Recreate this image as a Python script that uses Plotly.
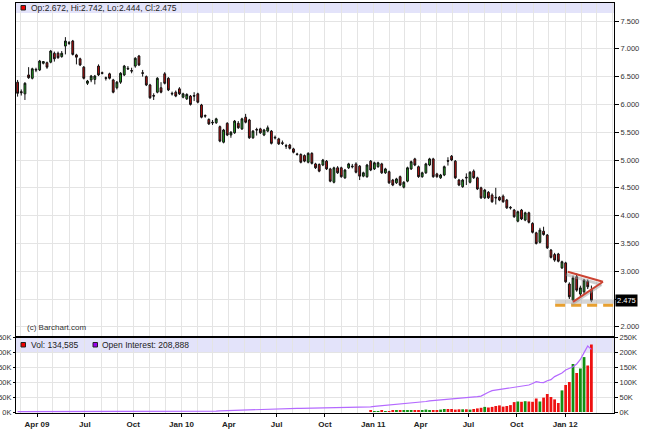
import plotly.graph_objects as go
import pandas as pd

# ---------------- data (weekly candles) ----------------
first_week = "2009-02-23"

opens = [6.40, 6.23, 6.19, 6.53, 6.47, 6.63, 6.62, 6.74, 6.75, 6.76,
         6.92, 6.92, 6.86, 7.05, 7.11, 7.14, 6.89, 6.82, 6.67, 6.38,
         6.44, 6.45, 6.69, 6.57, 6.48, 6.55, 6.44, 6.30, 6.40, 6.53,
         6.65, 6.61, 6.69, 6.87, 6.57, 6.50, 6.35, 6.16, 6.22, 6.30,
         6.55, 6.47, 6.20, 6.22, 6.28, 6.13, 6.10, 6.15, 6.16, 6.19,
         5.99, 5.80, 5.73, 5.68, 5.67, 5.60, 5.32, 5.66, 5.45, 5.49,
         5.66, 5.56, 5.77, 5.72, 5.40, 5.55, 5.56, 5.45, 5.52, 5.52,
         5.41, 5.38, 5.31, 5.26, 5.27, 5.20, 5.11, 5.10, 5.08, 4.96,
         5.12, 4.93, 4.92, 4.91, 4.98, 4.84, 4.60, 4.86, 4.86, 4.68,
         4.86, 4.89, 4.93, 4.89, 4.71, 4.70, 4.98, 4.84, 4.88, 4.93,
         4.77, 4.79, 4.64, 4.59, 4.70, 4.51, 4.62, 4.84, 5.02, 4.88,
         4.70, 4.77, 4.91, 5.02, 4.75, 4.68, 4.73, 4.99, 5.07, 4.98,
         4.64, 4.52, 4.69, 4.60, 4.80, 4.68, 4.50, 4.32, 4.42, 4.37,
         4.33, 4.33, 4.35, 4.28, 4.15, 4.10, 3.90, 4.10, 3.92, 4.05,
         3.86, 3.69, 3.52, 3.72, 3.65, 3.38, 3.30, 3.31, 3.06, 3.15,
         2.77, 2.48, 2.90, 2.59, 2.63, 2.82, 2.672]
highs = [6.44, 6.27, 6.40, 6.67, 6.66, 6.66, 6.80, 6.78, 6.77, 6.98,
         6.95, 6.95, 6.96, 7.21, 7.14, 7.16, 6.91, 6.84, 6.69, 6.44,
         6.53, 6.53, 6.72, 6.59, 6.50, 6.57, 6.46, 6.42, 6.58, 6.71,
         6.69, 6.66, 6.85, 6.89, 6.62, 6.52, 6.37, 6.20, 6.49, 6.40,
         6.58, 6.49, 6.23, 6.25, 6.31, 6.21, 6.20, 6.17, 6.22, 6.21,
         6.01, 5.82, 5.75, 5.72, 5.76, 5.62, 5.56, 5.68, 5.52, 5.72,
         5.70, 5.76, 5.83, 5.74, 5.54, 5.58, 5.58, 5.56, 5.62, 5.54,
         5.44, 5.40, 5.35, 5.29, 5.29, 5.22, 5.13, 5.12, 5.10, 5.14,
         5.14, 4.95, 4.94, 5.02, 5.00, 4.86, 4.88, 4.89, 4.88, 4.84,
         4.95, 4.93, 4.96, 4.91, 4.79, 4.93, 5.00, 4.97, 4.97, 4.95,
         4.86, 4.81, 4.66, 4.68, 4.72, 4.62, 4.88, 4.99, 5.04, 4.90,
         4.79, 4.95, 5.04, 5.04, 4.77, 4.75, 4.90, 5.05, 5.09, 5.00,
         4.66, 4.66, 4.76, 4.80, 4.83, 4.70, 4.52, 4.48, 4.44, 4.40,
         4.50, 4.35, 4.38, 4.30, 4.17, 4.12, 4.09, 4.12, 4.07, 4.07,
         3.88, 3.71, 3.78, 3.80, 3.67, 3.40, 3.33, 3.33, 3.19, 3.17,
         2.80, 2.92, 2.96, 2.74, 2.86, 2.85, 2.742]
lows = [6.14, 6.16, 6.08, 6.46, 6.45, 6.58, 6.60, 6.72, 6.64, 6.74,
        6.77, 6.82, 6.84, 6.90, 7.07, 6.88, 6.72, 6.69, 6.45, 6.35,
        6.40, 6.36, 6.51, 6.54, 6.43, 6.45, 6.20, 6.27, 6.37, 6.51,
        6.62, 6.56, 6.66, 6.69, 6.50, 6.33, 6.10, 6.08, 6.20, 6.20,
        6.36, 6.24, 6.16, 6.13, 6.17, 6.11, 6.08, 5.98, 6.06, 6.02,
        5.75, 5.76, 5.63, 5.63, 5.65, 5.32, 5.30, 5.43, 5.40, 5.47,
        5.56, 5.54, 5.66, 5.38, 5.38, 5.44, 5.47, 5.43, 5.50, 5.28,
        5.37, 5.27, 5.27, 5.20, 5.19, 5.12, 5.08, 4.94, 4.96, 4.94,
        4.92, 4.84, 4.78, 4.89, 4.82, 4.60, 4.58, 4.75, 4.68, 4.66,
        4.84, 4.85, 4.76, 4.64, 4.69, 4.68, 4.80, 4.82, 4.86, 4.75,
        4.75, 4.57, 4.53, 4.57, 4.53, 4.49, 4.60, 4.82, 4.89, 4.68,
        4.68, 4.75, 4.89, 4.68, 4.68, 4.66, 4.71, 4.90, 4.98, 4.66,
        4.53, 4.50, 4.55, 4.58, 4.66, 4.46, 4.30, 4.30, 4.30, 4.23,
        4.20, 4.26, 4.23, 4.12, 4.11, 3.96, 3.88, 3.92, 3.90, 3.86,
        3.68, 3.48, 3.50, 3.64, 3.40, 3.23, 3.17, 3.16, 3.04, 2.79,
        2.50, 2.46, 2.63, 2.54, 2.58, 2.68, 2.444]
closes = [6.20, 6.21, 6.38, 6.48, 6.64, 6.62, 6.78, 6.77, 6.67, 6.96,
          6.82, 6.84, 6.92, 7.14, 7.10, 6.90, 6.85, 6.71, 6.47, 6.42,
          6.51, 6.51, 6.53, 6.56, 6.47, 6.47, 6.22, 6.40, 6.56, 6.69,
          6.64, 6.60, 6.83, 6.71, 6.56, 6.35, 6.12, 6.15, 6.47, 6.22,
          6.38, 6.26, 6.19, 6.15, 6.19, 6.19, 6.18, 6.00, 6.15, 6.04,
          5.77, 5.79, 5.65, 5.67, 5.74, 5.34, 5.54, 5.45, 5.50, 5.70,
          5.58, 5.74, 5.68, 5.40, 5.52, 5.54, 5.49, 5.54, 5.58, 5.30,
          5.40, 5.29, 5.30, 5.25, 5.21, 5.14, 5.10, 4.96, 4.98, 5.12,
          4.94, 4.86, 4.80, 5.00, 4.84, 4.62, 4.86, 4.77, 4.70, 4.82,
          4.93, 4.88, 4.78, 4.71, 4.77, 4.91, 4.82, 4.95, 4.95, 4.77,
          4.84, 4.59, 4.55, 4.66, 4.55, 4.60, 4.86, 4.97, 4.91, 4.70,
          4.77, 4.93, 5.02, 4.70, 4.70, 4.73, 4.88, 4.98, 5.00, 4.68,
          4.55, 4.64, 4.68, 4.78, 4.68, 4.48, 4.32, 4.46, 4.32, 4.25,
          4.32, 4.28, 4.25, 4.14, 4.14, 3.98, 4.07, 3.94, 4.05, 3.88,
          3.70, 3.50, 3.74, 3.66, 3.42, 3.25, 3.20, 3.18, 3.17, 2.81,
          2.54, 2.88, 2.66, 2.70, 2.84, 2.72, 2.475]

# weekly volume (thousands) and open interest (thousands)
volume_k = [0] * 96 + [
    4, 3, 3, 4, 3, 2, 4, 4, 5, 6, 5, 4, 5, 5, 6, 8, 6, 5, 6, 8,
    10, 10, 10, 8, 9, 9, 9, 8, 10, 12, 14, 17, 15, 17, 20, 22, 18, 20, 23, 33,
    35, 34, 36, 35, 34, 45, 35, 48, 60, 50, 42, 30, 72, 90, 100, 160, 130, 145, 183, 155,
    225]
open_interest_k = [
    1.0, 1.0, 1.1, 1.1, 1.2, 1.2, 1.3, 1.3, 1.4, 1.4,
    1.5, 1.5, 1.6, 1.6, 1.7, 1.7, 1.8, 1.8, 1.9, 1.9,
    2.0, 2.0, 2.0, 2.1, 2.1, 2.1, 2.2, 2.2, 2.2, 2.3,
    2.3, 2.3, 2.4, 2.4, 2.4, 2.5, 2.5, 2.5, 2.6, 2.6,
    2.6, 2.7, 2.7, 2.7, 2.8, 2.8, 2.8, 2.9, 2.9, 2.9,
    3.0, 3.0, 3.0, 3.0, 3.0, 4.0, 4.5, 5.0, 5.5, 6.0,
    6.5, 7.0, 7.5, 8.0, 8.3, 8.6, 8.8, 9.0, 9.0, 9.2,
    10, 10.3, 10.6, 11, 11.3, 11.6, 12, 12.2, 12.4, 12.6,
    12.8, 13, 13, 13, 13.2, 13.4, 13.6, 13.8, 14, 14.2,
    14.4, 14.6, 14.8, 15, 15, 15.5, 17, 19, 20, 21,
    23, 23, 24, 25, 26, 27, 28, 30, 31, 33,
    34, 35, 37, 38, 39, 40, 41, 41, 42, 43,
    44, 45, 46, 47, 49, 51, 53, 60, 66, 71,
    73, 75, 76, 79, 82, 84, 86, 87, 88, 90,
    95, 101, 99, 98, 104, 108, 118, 125, 130, 140,
    145, 151, 160, 175, 198, 220, 208.888]

quarter_ticks = ["2009-04-01", "2009-07-01", "2009-10-01", "2010-01-01", "2010-04-01",
                 "2010-07-01", "2010-10-01", "2011-01-01", "2011-04-01", "2011-07-01",
                 "2011-10-01", "2012-01-01"]
quarter_labels = ["Apr 09", "Jul", "Oct", "Jan 10", "Apr", "Jul", "Oct", "Jan 11",
                  "Apr", "Jul", "Oct", "Jan 12"]
price_ticks = [2.0, 2.5, 3.0, 3.5, 4.0, 4.5, 5.0, 5.5, 6.0, 6.5, 7.0, 7.5]
price_labels = ["2.000", "", "3.000", "3.500", "4.000", "4.500", "5.000", "5.500",
                "6.000", "6.500", "7.000", "7.500"]
vol_ticks = [0, 50000, 100000, 150000, 200000, 250000]
vol_labels = ["0K", "50K", "100K", "150K", "200K", "250K"]

# chart drawings (triangle + support line)
tri_top = ("2012-01-06", 2.99)
tri_apex = ("2012-03-13", 2.81)
tri_bottom = ("2012-01-16", 2.45)
support_level = 2.39
support_start = "2011-12-13"

last_close = closes[-1]
header_text = "Op:2.672, Hi:2.742, Lo:2.444, Cl:2.475"
vol_text = "Vol: 134,585"
oi_text = "Open Interest: 208,888"

# ---------------- figure ----------------
dates = pd.date_range(first_week, periods=len(opens), freq="7D")
x_range = ["2009-02-20", "2012-04-03"]
FONT = "Liberation Sans, Arial, sans-serif"
GRID = "#e4e4e4"

vol_colors = ["#129012" if c > o else "#ee1111" for o, c in zip(opens, closes)]

fig = go.Figure()
fig.add_trace(go.Candlestick(
    x=dates, open=opens, high=highs, low=lows, close=closes,
    increasing=dict(line=dict(color="#111111", width=1), fillcolor="#22aa22"),
    decreasing=dict(line=dict(color="#111111", width=1), fillcolor="#c41010"),
    xaxis="x", yaxis="y", showlegend=False, hoverinfo="skip"))

fig.add_trace(go.Bar(
    x=dates, y=[v * 1000 for v in volume_k], marker=dict(color=vol_colors, line=dict(width=0)),
    xaxis="x2", yaxis="y2", showlegend=False, hoverinfo="skip"))
fig.add_trace(go.Scatter(
    x=dates, y=[v * 1000 for v in open_interest_k], mode="lines",
    line=dict(color="#b469ff", width=1.2), xaxis="x2", yaxis="y2",
    showlegend=False, hoverinfo="skip"))
fig.add_trace(go.Scatter(
    x=[dates[0]], y=[0], mode="markers", marker=dict(opacity=0),
    xaxis="x2", yaxis="y3", showlegend=False, hoverinfo="skip"))

# pixel layout helpers
H_TOP, H_BOT = 3, 413
def py(px):
    return (H_BOT - px) / (H_BOT - H_TOP)
def px_x(px):
    return (px - 16) / 598.0

split = py(337)

common_x = dict(range=x_range, type="date", showgrid=True, gridcolor=GRID, gridwidth=1,
                tickvals=quarter_ticks, ticktext=quarter_labels, automargin=False,
                minor=dict(dtick="M1", tick0="2009-01-01", showgrid=True, gridcolor=GRID),
                showline=True, linecolor="#000000", linewidth=1, mirror=True, zeroline=False)

fig.update_layout(
    width=645, height=432,
    margin=dict(l=16, r=31, t=3, b=19, autoexpand=False),
    paper_bgcolor="white", plot_bgcolor="white",
    font=dict(family=FONT, size=8, color="#222222"),
    bargap=0.25,
    xaxis=dict(**common_x, anchor="y", showticklabels=False, ticks="",
               rangeslider=dict(visible=False)),
    xaxis2=dict(**common_x, anchor="y2", matches="x", ticks="outside", ticklen=3,
                tickcolor="#000000",
                tickfont=dict(family=FONT, size=8, color="#222222", weight="bold")),
    yaxis=dict(domain=[split, 1], side="right", range=[1.817, 7.824], automargin=False,
               tickvals=price_ticks, ticktext=price_labels, ticks="outside", ticklen=4,
               tickcolor="#000000", tickfont=dict(family=FONT, size=7.5, color="#333333"),
               showgrid=True, gridcolor=GRID, zeroline=False,
               showline=True, linecolor="#000000", linewidth=1, mirror=True),
    yaxis2=dict(domain=[0, split], side="right", range=[-3333, 250000], automargin=False,
                tickvals=vol_ticks, ticktext=vol_labels, ticks="outside", ticklen=3,
                tickcolor="#000000", tickfont=dict(family=FONT, size=7.5, color="#333333"),
                showgrid=True, gridcolor=GRID, zeroline=False,
                showline=True, linecolor="#000000", linewidth=1, mirror=True),
    yaxis3=dict(overlaying="y2", side="left", range=[-3333, 250000], anchor="x2",
                automargin=False,
                tickvals=vol_ticks, ticktext=vol_labels, ticks="outside", ticklen=2,
                tickcolor="#000000", tickfont=dict(family=FONT, size=7.5, color="#333333"),
                showgrid=False, zeroline=False, showline=False),
)

shapes = []
# header bands
shapes.append(dict(type="rect", xref="paper", yref="paper", x0=0, x1=1, y0=py(13), y1=py(3),
                   fillcolor="#e3e3fa", line=dict(width=0), layer="between"))
shapes.append(dict(type="rect", xref="paper", yref="paper", x0=0, x1=1, y0=py(352), y1=py(338),
                   fillcolor="#e3e3fa", line=dict(width=0), layer="between"))
# thick separator
shapes.append(dict(type="line", xref="paper", yref="paper", x0=0, x1=1, y0=split, y1=split,
                   line=dict(color="#000000", width=2)))
# legend squares
shapes.append(dict(type="rect", xref="paper", yref="paper", x0=px_x(21), x1=px_x(25.5),
                   y0=py(10), y1=py(5.5), fillcolor="#ee0000", line=dict(color="#222", width=1)))
shapes.append(dict(type="rect", xref="paper", yref="paper", x0=px_x(21), x1=px_x(25.5),
                   y0=py(347), y1=py(342.5), fillcolor="#ee0000", line=dict(color="#222", width=1)))
shapes.append(dict(type="rect", xref="paper", yref="paper", x0=px_x(93), x1=px_x(97.5),
                   y0=py(347), y1=py(342.5), fillcolor="#9900ee", line=dict(color="#222", width=1)))
# support line shadow + dashed orange line
shapes.append(dict(type="line", xref="x", yref="y", x0=support_start, x1=x_range[1],
                   y0=support_level + 0.06, y1=support_level + 0.06,
                   line=dict(color="rgba(180,180,180,0.55)", width=4)))
shapes.append(dict(type="line", xref="x", yref="y", x0=support_start, x1=x_range[1],
                   y0=support_level, y1=support_level,
                   line=dict(color="#e8a030", width=3, dash="10px,6px")))
# triangle shadow
for a, b in [(tri_top, tri_apex), (tri_bottom, tri_apex)]:
    shapes.append(dict(type="line", xref="x", yref="y",
                       x0=pd.Timestamp(a[0]) - pd.Timedelta(days=3), y0=a[1] - 0.05,
                       x1=pd.Timestamp(b[0]) - pd.Timedelta(days=3), y1=b[1] - 0.05,
                       line=dict(color="rgba(150,150,150,0.45)", width=3)))
# triangle
for a, b in [(tri_top, tri_apex), (tri_bottom, tri_apex)]:
    shapes.append(dict(type="line", xref="x", yref="y", x0=a[0], y0=a[1], x1=b[0], y1=b[1],
                       line=dict(color="#cc4433", width=2)))
fig.update_layout(shapes=shapes)

annotations = [
    dict(xref="paper", yref="paper", x=px_x(28.5), y=py(8), text=header_text, showarrow=False,
         xanchor="left", yanchor="middle", font=dict(family=FONT, size=8.5, color="#222222")),
    dict(xref="paper", yref="paper", x=px_x(28.5), y=py(344.5), text=vol_text, showarrow=False,
         xanchor="left", yanchor="middle", font=dict(family=FONT, size=8.5, color="#222222")),
    dict(xref="paper", yref="paper", x=px_x(100), y=py(344.5), text=oi_text, showarrow=False,
         xanchor="left", yanchor="middle", font=dict(family=FONT, size=8.5, color="#222222")),
    dict(xref="paper", yref="paper", x=px_x(25), y=py(327), text="(c) Barchart.com",
         showarrow=False, xanchor="left", yanchor="middle",
         font=dict(family=FONT, size=8, color="#333333")),
    dict(xref="paper", yref="y", x=1, y=last_close, text=f"{last_close:.3f}", showarrow=False,
         xanchor="left", yanchor="middle", xshift=1, bgcolor="#000000", borderpad=1,
         font=dict(family=FONT, size=7.5, color="#ffffff")),
]
fig.update_layout(annotations=annotations)

fig.write_html("out.html", config={"displayModeBar": False},
               post_script="document.body.style.margin='0';document.body.style.overflow='hidden';")
